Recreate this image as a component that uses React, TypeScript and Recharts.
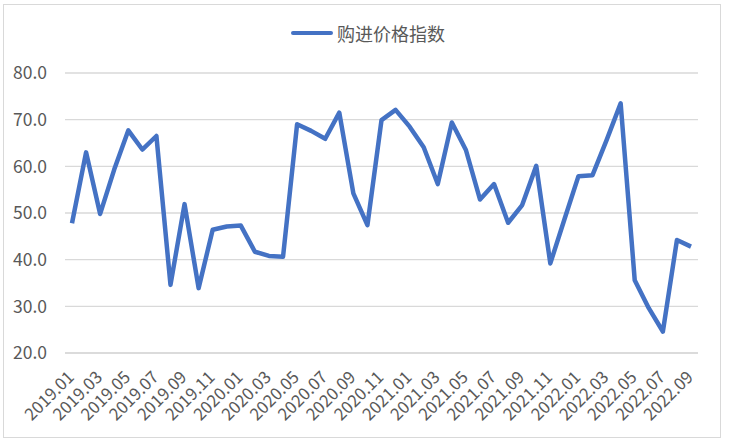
import { LineChart, Line, XAxis, YAxis, CartesianGrid, Legend } from "recharts";

// months shown on the x axis (every other one gets a label)
const months = [
  "2019.01", "2019.02", "2019.03", "2019.04", "2019.05", "2019.06", "2019.07", "2019.08", "2019.09", "2019.10", "2019.11", "2019.12",
  "2020.01", "2020.02", "2020.03", "2020.04", "2020.05", "2020.06", "2020.07", "2020.08", "2020.09", "2020.10", "2020.11", "2020.12",
  "2021.01", "2021.02", "2021.03", "2021.04", "2021.05", "2021.06", "2021.07", "2021.08", "2021.09", "2021.10", "2021.11", "2021.12",
  "2022.01", "2022.02", "2022.03", "2022.04", "2022.05", "2022.06", "2022.07", "2022.08", "2022.09",
];

const priceIndex = [
  47.8, 63.0, 49.8, 59.3, 67.7, 63.6, 66.5, 34.6, 51.9, 33.9, 46.4, 47.1,
  47.3, 41.7, 40.8, 40.6, 69.0, 67.6, 65.9, 71.5, 54.2, 47.4, 69.9, 72.1,
  68.5, 64.1, 56.2, 69.4, 63.5, 52.9, 56.2, 47.9, 51.7, 60.1, 39.2, 48.6,
  57.9, 58.1, 65.6, 73.5, 35.6, 29.6, 24.6, 44.2, 42.8,
];

const yTicks = [20, 30, 40, 50, 60, 70, 80];
const seriesName = "购进价格指数";

const data = months.map((m, i) => ({ month: m, value: priceIndex[i] }));

const FONT = '"Noto Sans CJK SC", "Noto Sans", sans-serif';

const RotatedTick = (props: any) => {
  const { x, y, payload } = props;
  return (
    <g transform={`translate(${x - 1},${y + 13})`}>
      <text
        textAnchor="end"
        dy="0.35em"
        transform="rotate(-45)"
        fill="#595959"
        fontSize={17}
        fontFamily={FONT}
      >
        {payload.value}
      </text>
    </g>
  );
};

const LegendContent = () => (
  <div
    style={{
      display: "flex",
      alignItems: "center",
      justifyContent: "center",
      fontFamily: FONT,
      fontSize: 18,
      color: "#595959",
      paddingLeft: 38,
    }}
  >
    <span
      style={{
        display: "inline-block",
        width: 42,
        height: 4,
        borderRadius: 2,
        background: "#4472C4",
        marginRight: 4,
      }}
    />
    {seriesName}
  </div>
);

export default function App() {
  return (
    <div style={{ position: "absolute", left: 0, top: 0, width: 730, height: 442, background: "#fff" }}>
      <div
        style={{
          position: "absolute",
          left: 3,
          top: 4,
          width: 716,
          height: 432,
          border: "1px solid #d9d9d9",
        }}
      />
      <LineChart
        width={730}
        height={442}
        data={data}
        margin={{ top: 47, right: 32, bottom: 0, left: 0 }}
      >
        <CartesianGrid vertical={false} stroke="#d9d9d9" strokeWidth={1.3} />
        <XAxis
          dataKey="month"
          interval={1}
          height={89}
          padding={{ left: 7, right: 7 }}
          axisLine={{ stroke: "#d9d9d9", strokeWidth: 1.3 }}
          tickLine={false}
          tick={<RotatedTick />}
        />
        <YAxis
          domain={[20, 80]}
          ticks={yTicks}
          width={65}
          axisLine={false}
          tickLine={false}
          tickSize={6}
          tickMargin={12}
          tickFormatter={(v: number) => v.toFixed(1)}
          tick={{ fill: "#595959", fontSize: 17.5, fontFamily: FONT }}
        />
        <Legend
          verticalAlign="top"
          content={<LegendContent />}
          wrapperStyle={{ top: 20 }}
        />
        <Line
          type="linear"
          dataKey="value"
          name={seriesName}
          stroke="#4472C4"
          strokeWidth={4.5}
          strokeLinejoin="round"
          dot={false}
          activeDot={false}
          isAnimationActive={false}
        />
      </LineChart>
    </div>
  );
}
